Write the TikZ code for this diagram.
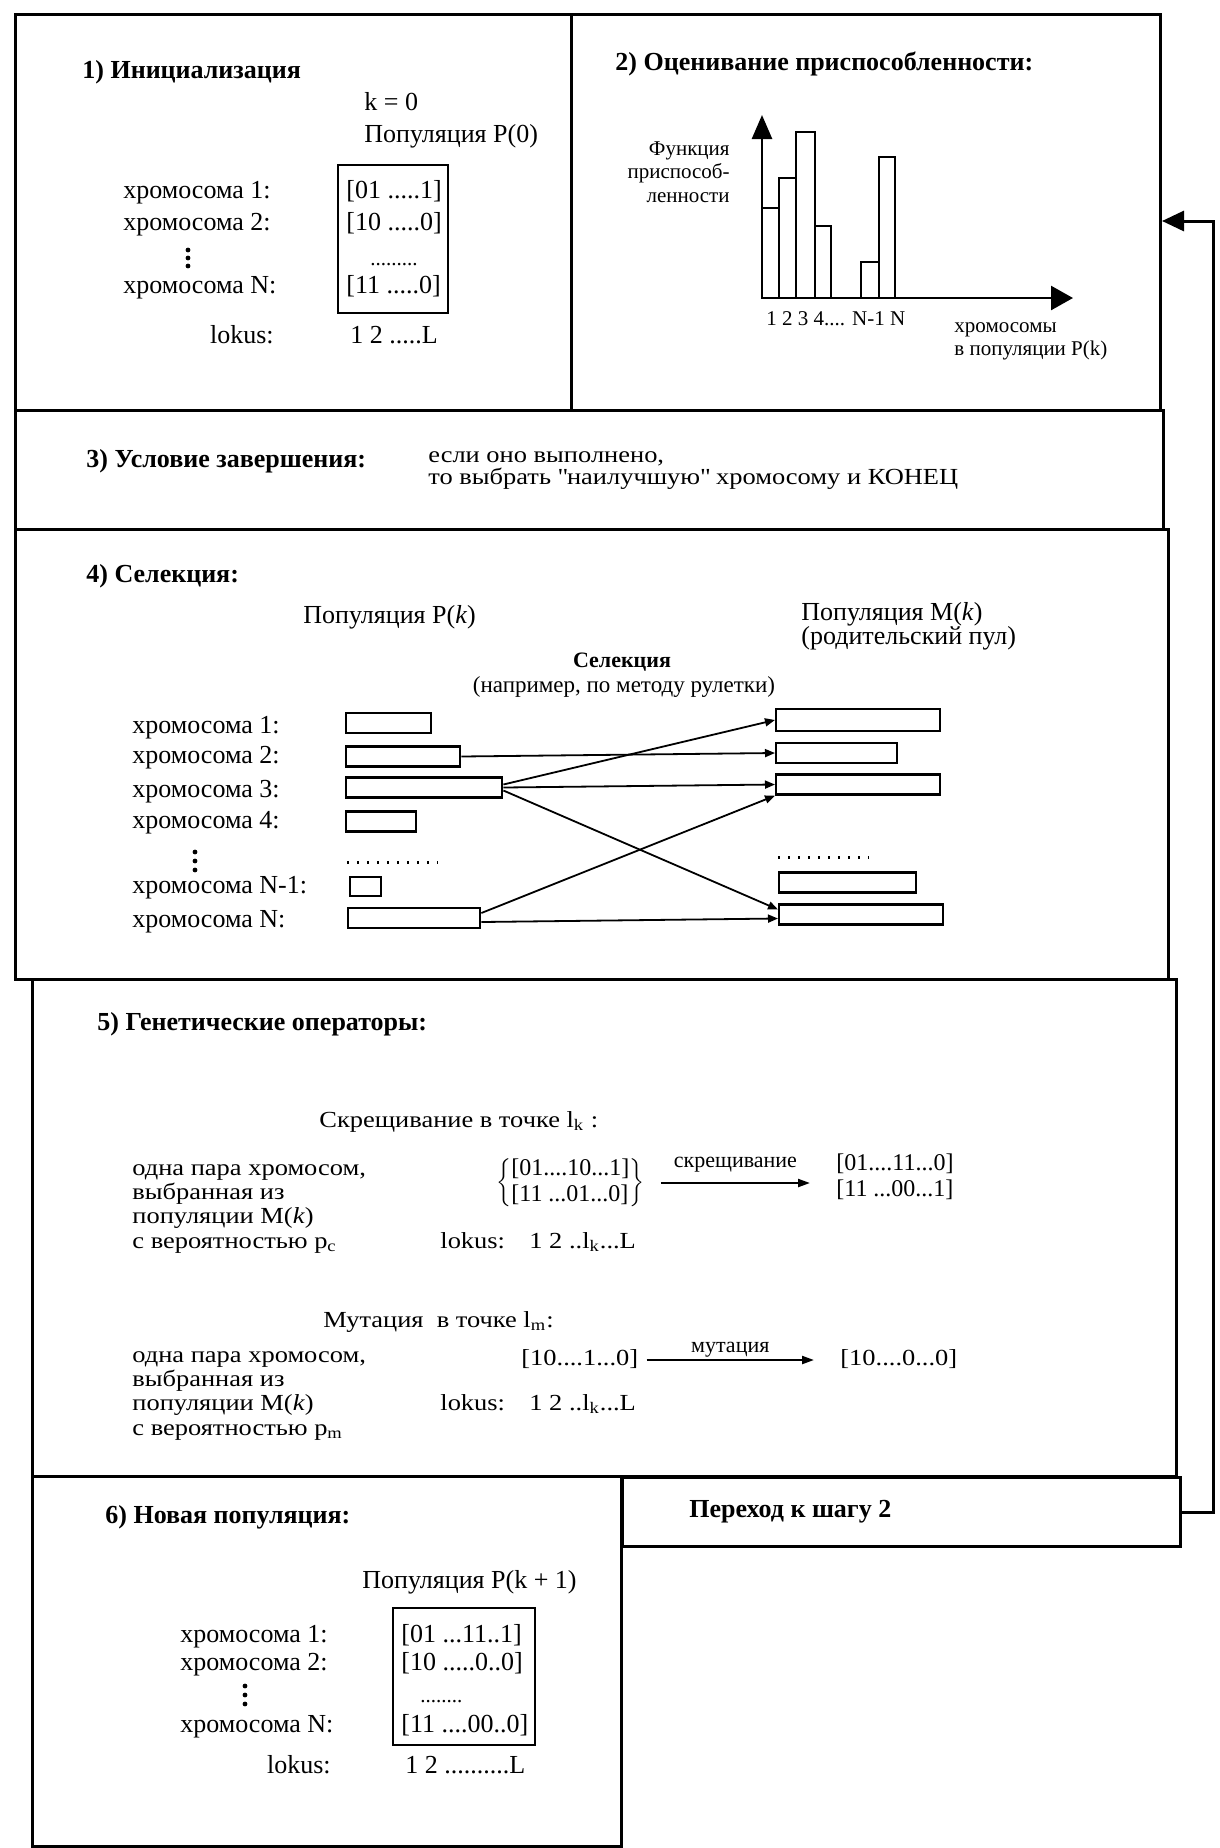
\documentclass[tikz,border=0pt]{standalone}
\usepackage{fontspec}
\setmainfont{Liberation Serif}
\newfontfamily\widefont[FakeStretch=1.15]{Liberation Serif}
\usetikzlibrary{arrows.meta}

\begin{document}
\begin{tikzpicture}[x=0.5pt,y=-0.5pt,
	panel/.style={line width=1.5pt},
	ttl/.style={anchor=west,inner sep=0pt,text height=0.7em,text depth=0.2em,font=\fontsize{13}{15}\selectfont\bfseries},
	txt/.style={anchor=west,inner sep=0pt,text height=0.7em,text depth=0.2em,font=\fontsize{13}{15}\selectfont},
	txm/.style={txt,font=\widefont\fontsize{11.5}{13}\selectfont},
	sml/.style={txt,font=\fontsize{10.5}{12}\selectfont},
	selbar/.style={draw,line width=1.2pt,inner sep=0pt,anchor=west,minimum height=10pt},
	sel/.style={line width=0.9pt,-{Triangle[length=5pt,width=4pt]}},
	opr/.style={line width=1.1pt,-{Triangle[length=6pt,width=4pt]}},
	hist/.style={line width=1pt}]
		\useasboundingbox (0,0) rectangle (1220,1848);
		\draw[panel] (15,14) rectangle (1160,410);
		\draw[panel] (571,14) -- (571,410);
		\draw[panel] (15,410) rectangle (1163,529);
		\draw[panel] (15,529) rectangle (1168,979);
		\draw[panel] (32,979) rectangle (1176,1476);
		\draw[panel] (32,1476) rectangle (621,1846);
		\node[panel,draw,anchor=north west,inner sep=0pt,minimum width=279pt,minimum height=34.5pt] (goto) at (621,1476) {};
		\coordinate (fitin) at (1162,221);
		\draw[panel,-{Triangle[length=11pt,width=10pt]}] (goto.east) -- ++(31,0) |- (fitin);

		\node[ttl] (t1) at (82,73) {1) Инициализация};
		\node[txt] (k0) at (364,105) {k = 0};
		\node[txt] (pop0) at (364,137) {Популяция P(0)};
		\draw[line width=1.2pt] (338,165) rectangle (448,313);
		\node[txt] (a1) at (123,193) {хромосома 1:};
		\node[txt] (a2) at (123,225) {хромосома 2:};
		\foreach \y in {250,258,266} \fill (188,\y) circle (1.2pt);
		\node[txt] (aN) at (123,288) {хромосома N:};
		\node[txt,anchor=east] (alok) at (274,338) {lokus:};
		\node[txt] (s1) at (346,193) {[01 .....1]};
		\node[txt] (s2) at (346,225) {[10 .....0]};
		\node[sml] (sd) at (370,260) {.........};
		\node[txt] (sN) at (346,288) {[11 .....0]};
		\node[txt] (sl) at (350,338) {1 2 .....L};

		\node[ttl] (t2) at (615,65) {2) Оценивание приспособленности:};
		\draw[hist] (762,298) rectangle (779,208);
		\draw[hist] (779,298) rectangle (796,178);
		\draw[hist] (796,298) rectangle (815,132);
		\draw[hist] (815,298) rectangle (831,226);
		\draw[hist] (861,298) rectangle (879,262);
		\draw[hist] (879,298) rectangle (895,157);
		\draw[line width=1.3pt,-{Triangle[length=12pt,width=10pt]}] (762,298) -- (762,115);
		\draw[line width=1.3pt,-{Triangle[length=11pt,width=12pt]}] (762,298) -- (1073,298);
		\node[sml,anchor=east] (f1) at (730,150) {Функция};
		\node[sml,anchor=east] (f2) at (730,173) {приспособ-};
		\node[sml,anchor=east] (f3) at (730,197) {ленности};
		\node[sml] (hx) at (766,320) {1 2 3 4.... N-1 N};
		\node[sml] (hl1) at (954,327) {хромосомы};
		\node[sml] (hl2) at (954,350) {в популяции P(k)};

		\node[ttl] (t3) at (86,462) {3) Условие завершения:};
		\node[txm] (e1) at (428,457) {если оно выполнено,};
		\node[txm] (e2) at (428,479) {то выбрать \textquotedbl наилучшую\textquotedbl\ хромосому и КОНЕЦ};

		\node[ttl] (t4) at (86,577) {4) Селекция:};
		\node[txt] (popk) at (303,618) {Популяция P(\textit{k})};
		\node[txt] (popm) at (801,615) {Популяция M(\textit{k})};
		\node[txt] (pool) at (801,639) {(родительский пул)};
		\node[sml,anchor=center,font=\fontsize{11}{12}\selectfont\bfseries] (sel1) at (622,662) {Селекция};
		\node[sml,anchor=center,font=\fontsize{11.5}{13}\selectfont] (sel2) at (624,687) {(например, по методу рулетки)};
		\node[txt] (b1) at (132,728) {хромосома 1:};
		\node[txt] (b2) at (132,758) {хромосома 2:};
		\node[txt] (b3) at (132,792) {хромосома 3:};
		\node[txt] (b4) at (132,823) {хромосома 4:};
		\foreach \y in {852,861,870} \fill (195,\y) circle (1.2pt);
		\node[txt] (bN1) at (132,888) {хромосома N-1:};
		\node[txt] (bN) at (132,922) {хромосома N:};
		\node[selbar,minimum width=42.5pt] (p1) at (345,723) {};
		\node[selbar,minimum width=57pt] (p2) at (345,756.5) {};
		\node[selbar,minimum width=78pt] (p3) at (345,787.5) {};
		\node[selbar,minimum width=35pt] (p4) at (345,821.5) {};
		\node[selbar,minimum width=15.5pt,minimum height=9.5pt] (pN1) at (349,886.5) {};
		\node[selbar,minimum width=66pt] (pN) at (347,918) {};
		\node[selbar,minimum width=82pt,minimum height=11pt] (m1) at (775,720) {};
		\node[selbar,minimum width=60.5pt] (m2) at (775,753) {};
		\node[selbar,minimum width=82pt] (m3) at (775,784.5) {};
		\node[selbar,minimum width=68.5pt] (m4) at (778,882.5) {};
		\node[selbar,minimum width=82pt] (m5) at (778,914.5) {};
		\draw[line width=1.5pt,dash pattern=on 1.2pt off 3.8pt] (347,862) -- (438,862);
		\draw[line width=1.5pt,dash pattern=on 1.2pt off 3.8pt] (778,857) -- (869,857);
		\draw[sel] (p2.east) -- (m2.west);
		\draw[sel] ([yshift=1.5pt]p3.east) -- (m1.west);
		\draw[sel] (p3.east) -- (m3.west);
		\draw[sel] ([yshift=-1.5pt]p3.east) -- ([yshift=2.5pt]m5.west);
		\draw[sel] ([yshift=2.5pt]pN.east) -- (m3.south west);
		\draw[sel] ([yshift=-2pt]pN.east) -- ([yshift=-2pt]m5.west);

		\node[ttl] (t5) at (97,1025) {5) Генетические операторы:};
		\node[txm] (cx) at (319,1122) {Скрещивание в точке l\textsubscript{k} :};
		\node[txm] (c1) at (132,1170) {одна пара хромосом,};
		\node[txm] (c2) at (132,1194) {выбранная из};
		\node[txm] (c3) at (132,1218) {популяции M(\textit{k})};
		\node[txm] (c4) at (132,1243) {с вероятностью p\textsubscript{c}};
		\node[anchor=west,inner sep=0pt,font=\fontsize{12}{13}\selectfont] (xpair) at (496,1183)
			{$\left\{\mbox{\begin{tabular}{@{}l@{}}[01....10...1]\\ {[}11 ...01...0]\end{tabular}}\right\}$};
		\node[anchor=west,inner sep=0pt,font=\fontsize{12}{13}\selectfont] (xres) at (836,1178)
			{\begin{tabular}{@{}l@{}}[01....11...0]\\ {[}11 ...00...1]\end{tabular}};
		\draw[opr] ([xshift=8pt]xpair.east) -- ([xshift=-13pt]xpair.east -| xres.west)
			node[midway,above=5pt,inner sep=0pt,font=\fontsize{11}{12}\selectfont] (xlab) {скрещивание};
		\node[txm] (xlok) at (440,1243) {lokus:};
		\node[txm] (xls) at (529,1243) {1 2 ..l\textsubscript{k}...L};
		\node[txm] (mx) at (323,1322) {Мутация\ \ в точке l\textsubscript{m}:};
		\node[txm] (d1) at (132,1357) {одна пара хромосом,};
		\node[txm] (d2) at (132,1381) {выбранная из};
		\node[txm] (d3) at (132,1405) {популяции M(\textit{k})};
		\node[txm] (d4) at (132,1430) {с вероятностью p\textsubscript{m}};
		\node[txm] (mfrom) at (521,1360) {[10....1...0]};
		\node[txm] (mres) at (840,1360) {[10....0...0]};
		\draw[opr] ([xshift=4pt]mfrom.east) -- ([xshift=-13pt]mfrom.east -| mres.west)
			node[midway,above=1pt,inner sep=0pt,font=\fontsize{11}{12}\selectfont] (mlab) {мутация};
		\node[txm] (mlok) at (440,1405) {lokus:};
		\node[txm] (mls) at (529,1405) {1 2 ..l\textsubscript{k}...L};

		\node[ttl] (t6) at (105,1518) {6) Новая популяция:};
		\node[ttl] (t7) at (689,1512) {Переход к шагу 2};
		\node[txt] (popn) at (362,1583) {Популяция P(k + 1)};
		\draw[line width=1.2pt] (393,1608) rectangle (535,1745);
		\node[txt] (n1) at (180,1637) {хромосома 1:};
		\node[txt] (n2) at (180,1665) {хромосома 2:};
		\foreach \y in {1686,1695,1704} \fill (245,\y) circle (1.2pt);
		\node[txt] (nN) at (180,1727) {хромосома N:};
		\node[txt,anchor=east] (nlok) at (331,1768) {lokus:};
		\node[txt] (r1) at (401,1637) {[01 ...11..1]};
		\node[txt] (r2) at (401,1665) {[10 .....0..0]};
		\node[sml] (rd) at (420,1697) {........};
		\node[txt] (rN) at (401,1727) {[11 ....00..0]};
		\node[txt] (rl) at (405,1768) {1 2 ..........L};
\end{tikzpicture}
\end{document}
